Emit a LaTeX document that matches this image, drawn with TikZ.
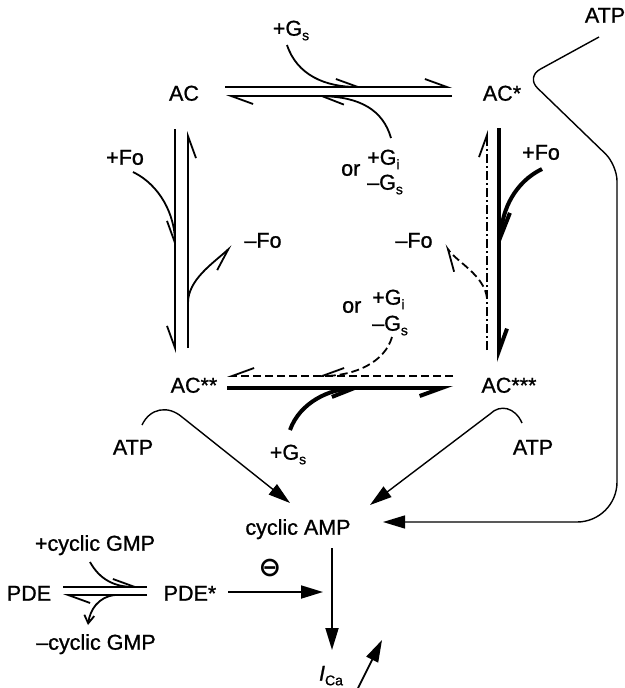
\documentclass[tikz,border=0pt]{standalone}
\usepackage{fontspec}
\setmainfont{Liberation Sans}
\newfontfamily\lblfont{Liberation Sans}[FakeBold=1,Ligatures=TeX]
\newfontfamily\symfont{DejaVu Sans}
\usetikzlibrary{arrows.meta}
\newcommand\subtx[1]{\raisebox{-0.4ex}{\fontsize{14}{14}\selectfont #1}}
\begin{document}
\begin{tikzpicture}[x=1pt,y=-1pt,
  lbl/.style={font=\lblfont\fontsize{21.5}{25}\selectfont, inner sep=0pt, text height=15.4pt, text depth=0pt},
  ln/.style={line width=1.8pt},
  lnf/.style={line width=1.4pt},
  hv/.style={line width=4pt},
  dashdot/.style={dash pattern=on 9pt off 3pt on 2pt off 3pt},
  dsh/.style={dash pattern=on 8pt off 4pt},
  hl/.style={-{Straight Barb[left,length=22pt,width=16pt]}},
  hr/.style={-{Straight Barb[right,length=22pt,width=16pt]}},
  tri/.style={-{Triangle[length=22pt,width=13pt]}}]
\useasboundingbox (0,0) rectangle (624,688);

% labels
\node[lbl] (ac) at (184,93) {AC};
\node[lbl] (acs) at (502,93) {AC*};
\node[lbl] (acss) at (194,385) {AC**};
\node[lbl] (acsss) at (509,385) {AC***};
\node[lbl] (gs1) at (291,28) {+G\subtx{s}};
\node[lbl, anchor=west] (or1) at (341,168) {or};
\node[lbl, anchor=west] (gi1) at (367,157) {+G\subtx{i}};
\node[lbl, anchor=west] (gsm1) at (367,182) {–G\subtx{s}};
\node[lbl] (fo1) at (125,157) {+Fo};
\node[lbl] (fo2) at (263,240) {–Fo};
\node[lbl] (fo3) at (541,152) {+Fo};
\node[lbl] (fo4) at (414,240) {–Fo};
\node[lbl, anchor=west] (or2) at (342,305) {or};
\node[lbl, anchor=west] (gi2) at (372,297) {+G\subtx{i}};
\node[lbl, anchor=west] (gsm2) at (372,323) {–G\subtx{s}};
\node[lbl] (gs2) at (288,452) {+G\subtx{s}};
\node[lbl] (atp1) at (133,447) {ATP};
\node[lbl] (atp2) at (533,447) {ATP};
\node[lbl] (atp3) at (605,15) {ATP};
\node[lbl] (camp) at (298,527) {cyclic AMP};
\node[lbl] (pgmp) at (95,543) {+cyclic GMP};
\node[lbl] (mgmp) at (96,642) {–cyclic GMP};
\node[lbl] (pde) at (29,593) {PDE};
\node[lbl] (pdes) at (190,593) {PDE*};
\node[inner sep=0pt, font=\symfont\bfseries\fontsize{27}{27}\selectfont] (inh) at (270,568) {⊖};
\node[lbl] (ica) at (331,673) {\textit{I}\subtx{Ca}};

% AC <-> AC*
\draw[ln, hl] (225,87) -- (452,87);
\draw[ln, hl] (452,96) -- (226,96);
\draw[ln, hl] (287,45) .. controls (297,75) and (325,87) .. (363,87);
\draw[ln, hl] (391,138) .. controls (383,110) and (360,97) .. (317,96);

% AC <-> AC**
\draw[ln, hr] (175,129) -- (175,353);
\draw[ln, hr] (188,348) -- (188,131);
\draw[ln, hr] (133,172) .. controls (160,185) and (175,215) .. (175,248);
\draw[ln, hr] (188,303) .. controls (188,280) and (212,264) .. (232,246);

% AC* <-> AC***
\draw[ln, dashdot, hl] (487,350) -- (487,130);
\draw[hv, hl] (499,128) -- (499,362);
\draw[hv, hl] (542,169) .. controls (515,182) and (502,210) .. (501,246);
\draw[ln, dsh, hl] (487,298) .. controls (484,275) and (457,262) .. (445,245);

% AC** <-> AC***
\draw[ln, dsh, hr] (453,376) -- (227,376);
\draw[hv, hr] (227,388) -- (453,388);
\draw[ln, dsh, hr] (392,337) .. controls (385,362) and (355,376) .. (317,376);
\draw[hv, hr] (290,430) .. controls (300,402) and (330,389) .. (365,388);

% ATP -> cyclic AMP
\draw[lnf, tri] (142,425) .. controls (150,408) and (168,405) .. (182,417) -- (290,503);
\draw[lnf, tri] (522,423) .. controls (515,407) and (500,404) .. (490,414) -- (370,505);
\draw[lnf, tri, rounded corners=16pt] (599,37) -- (526,77) -- (617,165) [rounded corners=40pt] -- (617,522) -- (383,522);

% PDE
\draw[ln] (63,587) -- (147,587);
\draw[ln, hl] (90,562) .. controls (100,580) and (115,587) .. (140,587);
\draw[ln, hl] (147,595) -- (63,595);
\draw[ln, -{Straight Barb[length=8pt,width=10pt]}] (115,595) .. controls (98,597) and (90,610) .. (88,625);

\draw[ln, tri] (228,592) -- (323,592);
\draw[ln, tri] (332,548) -- (332,650);
\draw[ln, tri] (358,688) -- (382,640);
\end{tikzpicture}
\end{document}
